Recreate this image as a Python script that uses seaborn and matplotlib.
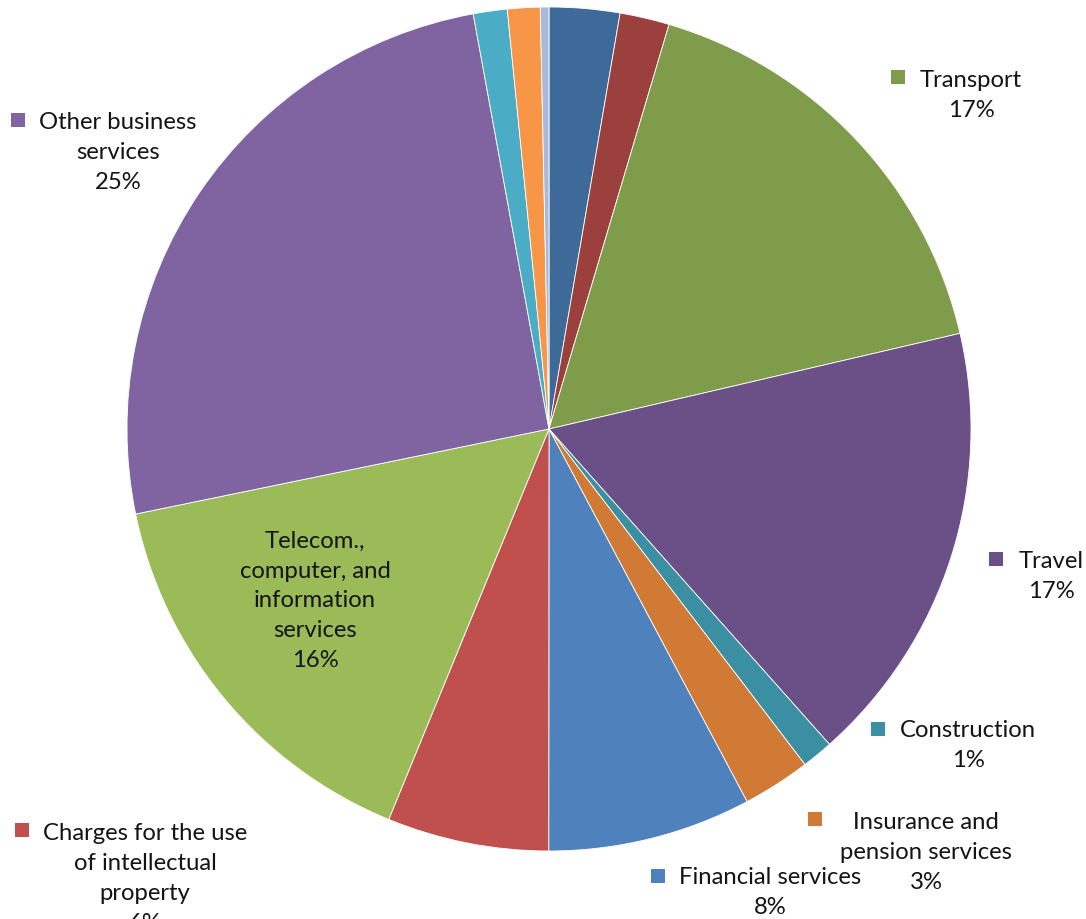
import matplotlib
matplotlib.use("Agg")
import matplotlib.pyplot as plt
import seaborn as sns

# ---- data ----
categories = [
    "Manufacturing services",
    "Maintenance and repair services",
    "Transport",
    "Travel",
    "Construction",
    "Insurance and\npension services",
    "Financial services",
    "Charges for the use\nof intellectual\nproperty",
    "Telecom.,\ncomputer, and\ninformation\nservices",
    "Other business\nservices",
    "Personal, cultural, and recreational services",
    "Government goods and services",
    "Other",
]
shares = [2.7, 1.9, 16.8, 17.1, 1.2, 2.6, 7.8, 6.2, 15.6, 25.4, 1.3, 1.25, 0.33]
labeled = [False, False, True, True, True, True, True, True, True, True, False, False, False]

colors = ["#3E6A9A", "#9C403E", "#7F9C4A", "#6A5086", "#3A8FA3", "#D07A36",
          "#4F81BD", "#C0504D", "#9BBB59", "#8064A2", "#4BACC6", "#F79646", "#A8B9DA"]

# ---- layout (pixel positions of label text centres, first-line y) ----
W, H = 1086, 920
CX, CY, R = 549, 430, 422
label_pos = {
    2: (971, 80),
    3: (1051, 561),
    4: (968, 730),
    5: (926, 821),
    6: (770, 877),
    7: (145, 831),
    8: (315, 538),
    9: (118, 121),
}
marker_pos = {
    2: (898, 78),
    3: (996, 560),
    4: (878, 730),
    5: (815, 820),
    6: (658, 877),
    7: (22, 831),
    9: (18, 121),
}
LINE = 31.5

sns.set_theme(style="white")
plt.rcParams["font.family"] = ["Lato", "DejaVu Sans"]

fig = plt.figure(figsize=(W / 100, H / 100), dpi=100)
ax = fig.add_axes([0, 0, 1, 1])

ax.pie(shares, colors=colors, startangle=90, counterclock=False, radius=1.0,
       wedgeprops=dict(edgecolor="white", linewidth=0.6))

ax.set_aspect("auto")
ax.set_xlim(-CX / R, (W - CX) / R)
ax.set_ylim(-(H - CY) / R, CY / R)
ax.axis("off")

def px(x, y):
    return (x - CX) / R, (CY - y) / R

total = sum(shares)
for i, (name, v) in enumerate(zip(categories, shares)):
    if not labeled[i]:
        continue
    text = f"{name}\n{round(v / total * 100)}%"
    lx, ly = label_pos[i]
    nlines = text.count("\n") + 1
    cy = ly + (nlines - 1) * LINE / 2
    x, y = px(lx, cy)
    ax.text(x, y, text, ha="center", va="center", fontsize=17.2,
            color="#141414", linespacing=1.52, multialignment="center", clip_on=False)
    if i in marker_pos:
        mx, my = px(*marker_pos[i])
        ax.scatter([mx], [my], marker="s", s=100, color=colors[i], linewidths=0, clip_on=False)

fig.savefig("out.png", dpi=100)
